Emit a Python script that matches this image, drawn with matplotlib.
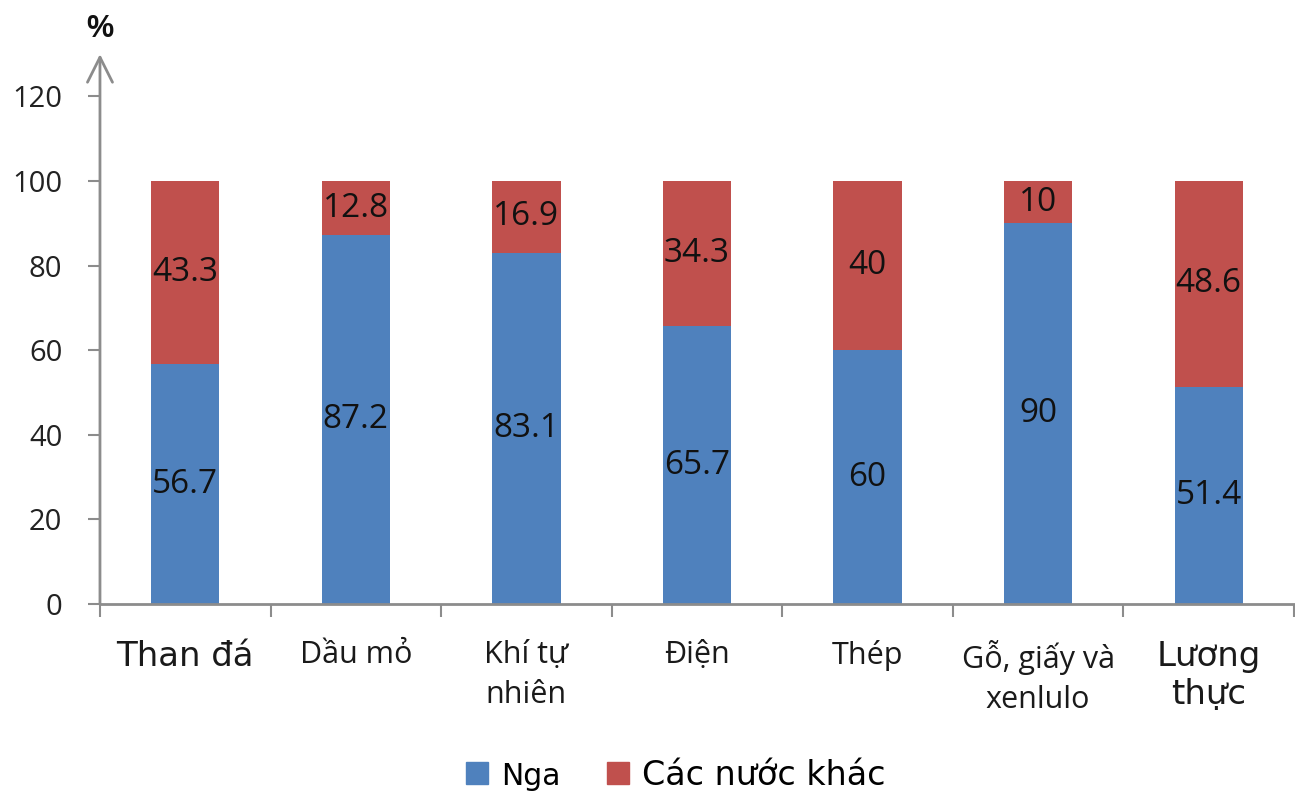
import matplotlib
matplotlib.use("Agg")
import matplotlib.pyplot as plt
from matplotlib.patches import Patch

categories = ["Than đá", "Dầu mỏ", "Khí tự\nnhiên", "Điện", "Thép", "Gỗ, giấy và\nxenlulo", "Lương\nthực"]
nga = [56.7, 87.2, 83.1, 65.7, 60, 90, 51.4]
khac = [43.3, 12.8, 16.9, 34.3, 40, 10, 48.6]
series_names = ["Nga", "Các nước khác"]
yticks = [0, 20, 40, 60, 80, 100, 120]

BLUE = "#4F81BD"
RED = "#C0504D"
AXC = "#8C8C8C"

fig = plt.figure(figsize=(12.95, 7.96), dpi=100)
ax = fig.add_axes([0.0772, 0.2412, 0.922, 0.6908])

x = list(range(len(categories)))
b1 = ax.bar(x, nga, width=0.4, color=BLUE)
b2 = ax.bar(x, khac, width=0.4, bottom=nga, color=RED)
for bars in (b1, b2):
    ax.bar_label(bars, labels=[f"{v:g}" for v in bars.datavalues], label_type="center",
                 fontsize=24, family="Open Sans", color="#111111")

ax.set_xlim(-0.5, 6.5)
ax.set_ylim(0, 130)
ax.set_yticks(yticks)
ax.set_yticklabels([str(v) for v in yticks], fontsize=21, family="Open Sans", color="#222222")
ax.tick_params(axis="y", direction="out", length=9, width=1.5, color=AXC, pad=18)

ax.set_xticks(x)
ax.set_xticklabels(categories, fontsize=22, family="Open Sans", color="#1a1a1a", linespacing=1.45)
for i in (0, 6):
    lbl = ax.get_xticklabels()[i]
    lbl.set_fontfamily("DejaVu Sans")
    lbl.set_fontsize(24.5)
    lbl.set_linespacing(1.2)
ax.tick_params(axis="x", which="major", length=0, pad=26)
ax.set_xticks([i - 0.5 for i in range(len(categories) + 1)], minor=True)
ax.tick_params(axis="x", which="minor", direction="out", length=9, width=1.5, color=AXC)

for s in ("top", "right", "left"):
    ax.spines[s].set_visible(False)
ax.spines["bottom"].set_color(AXC)
ax.spines["bottom"].set_linewidth(2)

ax.annotate("", xy=(-0.5, 130), xytext=(-0.5, 0), xycoords="data",
            arrowprops=dict(arrowstyle="->,head_length=0.6,head_width=0.3",
                            mutation_scale=30, color=AXC, lw=2, shrinkA=0, shrinkB=0),
            annotation_clip=False)

fig.text(0.0772, 0.963, "%", ha="center", va="center", fontsize=22, fontweight="bold",
         family="Liberation Sans", color="#111111")

handles = [Patch(color=BLUE), Patch(color=RED)]
leg = fig.legend(handles, series_names, loc="center", bbox_to_anchor=(0.522, 0.026), ncol=2,
                 frameon=False, prop={"family": "DejaVu Sans", "size": 24},
                 handlelength=0.65, handleheight=0.65, handletextpad=0.4, columnspacing=1.4)
leg.get_texts()[0].set_fontsize(21.5)

fig.savefig("out.png", dpi=100)
